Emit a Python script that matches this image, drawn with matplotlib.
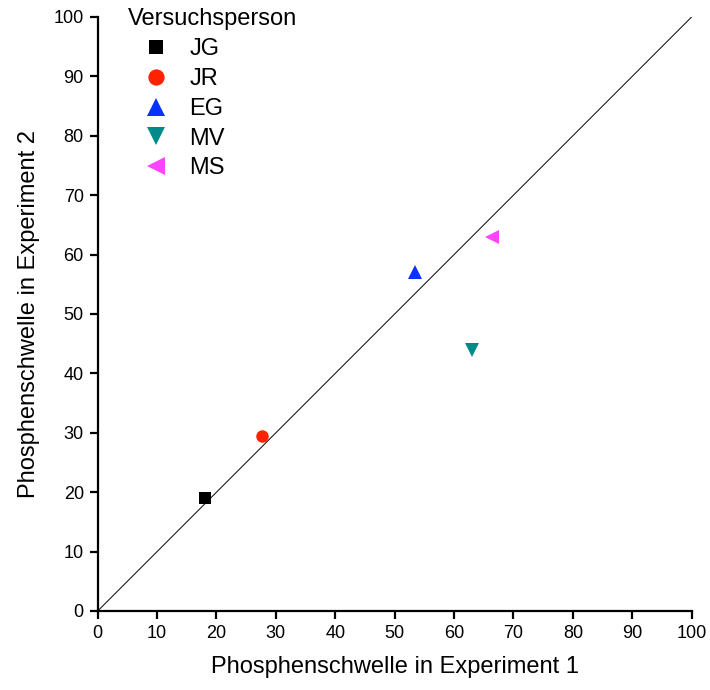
import matplotlib
matplotlib.use("Agg")
import matplotlib.pyplot as plt

plt.rcParams['font.family'] = ['Liberation Sans', 'DejaVu Sans']

# Versuchspersonen und Phosphenschwellen
subjects = ["JG", "JR", "EG", "MV", "MS"]
exp1 = [18.1, 27.7, 53.4, 63.0, 66.3]
exp2 = [19.0, 29.5, 57.0, 43.9, 62.9]
markers = ["s", "o", "^", "v", "<"]
colors = ["#000000", "#ff2200", "#0a32ff", "#008b8b", "#ff44ff"]
sizes = [8, 9, 10.5, 10.5, 10.5]
ticks = list(range(0, 101, 10))

fig = plt.figure(figsize=(7.1, 6.9), dpi=100)
ax = fig.add_axes([0.1376, 0.1145, 0.8366, 0.861])

ax.plot([0, 100], [0, 100], color="black", linewidth=0.7, zorder=1)
for name, x, y, m, c, s in zip(subjects, exp1, exp2, markers, colors, sizes):
    ax.plot(x, y, linestyle="none", marker=m, color=c, markersize=s,
            markeredgewidth=0, label=name, zorder=3)

ax.set_xlim(0, 100)
ax.set_ylim(0, 100)
ax.set_xticks(ticks)
ax.set_yticks(ticks)
ax.spines["top"].set_visible(False)
ax.spines["right"].set_visible(False)
ax.spines["left"].set_linewidth(1.6)
ax.spines["bottom"].set_linewidth(1.6)
ax.tick_params(direction="out", length=6, width=1.6, labelsize=13, pad=4)

ax.set_xlabel("Phosphenschwelle in Experiment 1", fontsize=17, labelpad=10)
ax.set_ylabel("Phosphenschwelle in Experiment 2", fontsize=17, labelpad=10)

leg = ax.legend(title="Versuchsperson", loc="upper left", bbox_to_anchor=(0.023, 1.042),
                frameon=False, fontsize=17, title_fontsize=17, alignment="left",
                handletextpad=0.2, labelspacing=0.33, borderpad=0.2,
                handlelength=2.4, markerscale=1.3)

fig.savefig("out.png", dpi=100)
